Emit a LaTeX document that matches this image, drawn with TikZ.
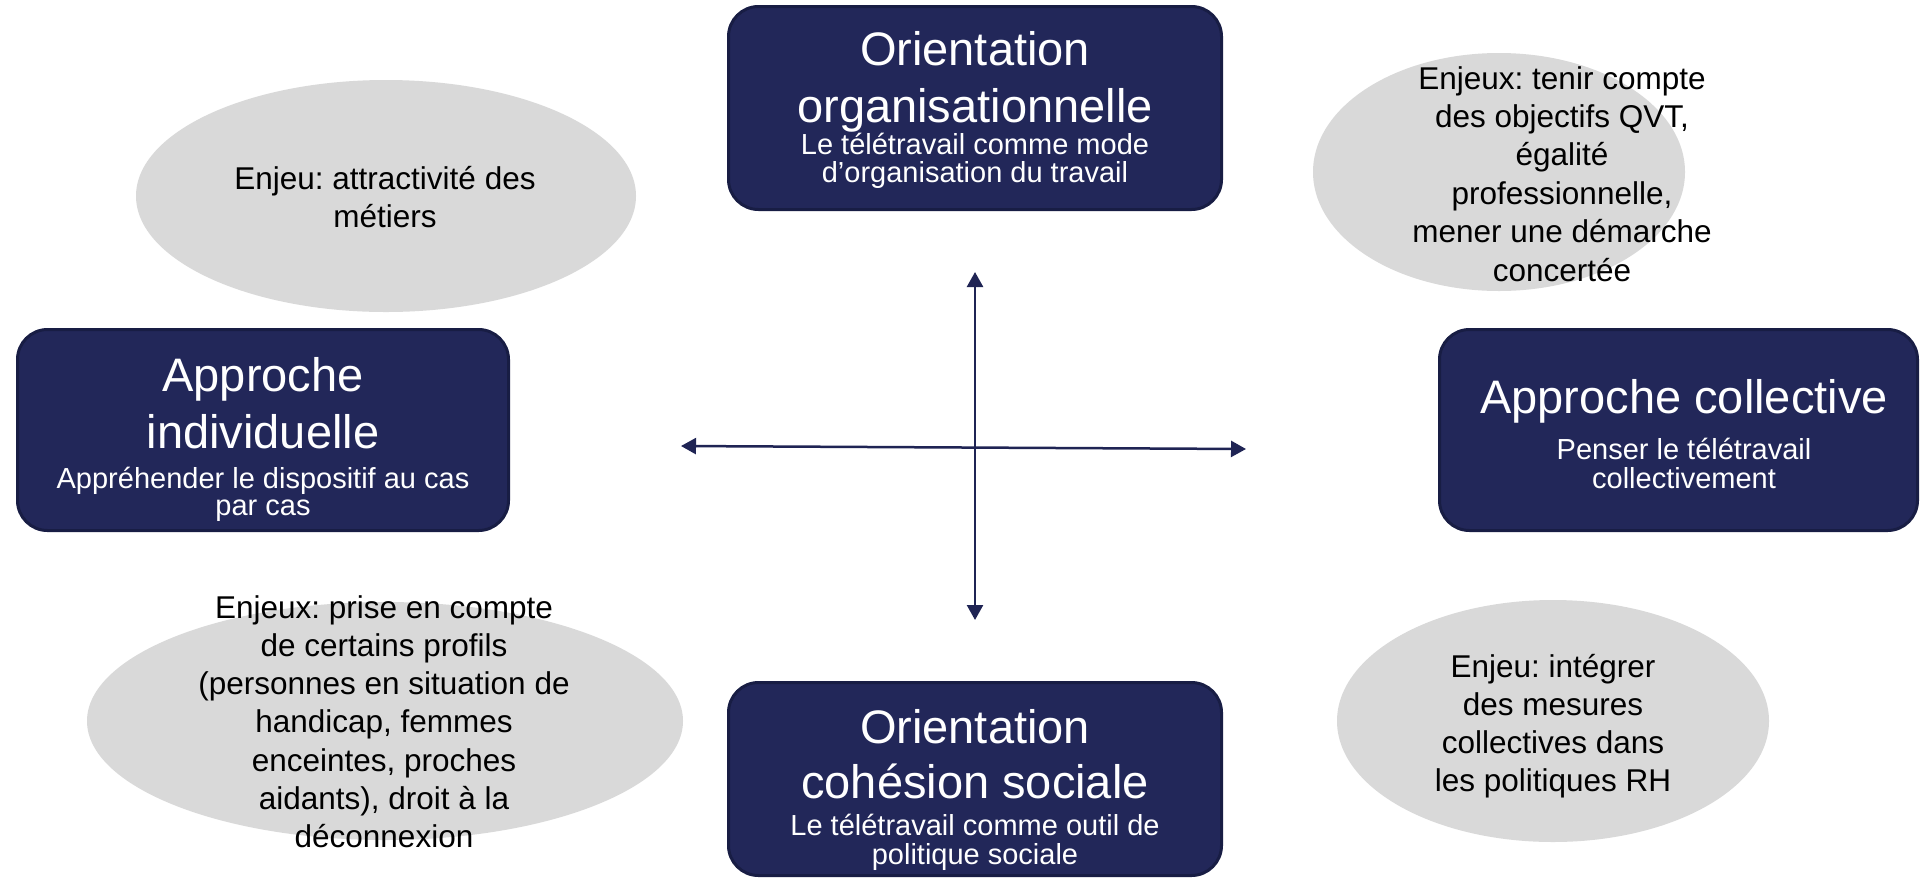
\documentclass[tikz,border=0pt]{standalone}
\usepackage{fontspec}
\setmainfont{Liberation Sans}
\usetikzlibrary{shapes.geometric,arrows.meta}
\definecolor{navy}{RGB}{34,39,89}
\definecolor{navyline}{RGB}{24,29,68}
\definecolor{arrowc}{RGB}{31,36,84}
\definecolor{ellgray}{RGB}{217,217,217}
\newcommand\ml[2]{\vtop{\frenchspacing\baselineskip=#1pt\lineskiplimit=-1000pt\relax\halign{\hfil##\hfil\cr#2\crcr}}}
\begin{document}
\frenchspacing
\begin{tikzpicture}[x=1pt,y=-1pt,
 dbox/.style={draw=navyline,fill=navy,line width=3pt,rounded corners=30pt,inner sep=0pt},
 ell/.style={ellipse,fill=ellgray,inner sep=0pt},
 ttl/.style={anchor=base,inner sep=0pt,text=white,font=\fontsize{47}{57}\selectfont},
 subtxt/.style={anchor=base,inner sep=0pt,text=white,font=\fontsize{29}{28}\selectfont},
 etxt/.style={anchor=base,inner sep=0pt,text=black,font=\fontsize{31.5}{38.4}\selectfont},
 axisarrow/.style={draw=arrowc,line width=2.5pt,{Triangle[length=15pt,width=16pt]}-{Triangle[length=15pt,width=16pt]}}]
\fill[white] (0,0) rectangle (1921,879);
\useasboundingbox (0,0) rectangle (1921,879);

% ellipses
\node[ell,minimum width=500pt,minimum height=232pt] (eTL) at (386,196) {};
\node[ell,minimum width=372pt,minimum height=238pt] (eTR) at (1499,172) {};
\node[ell,minimum width=596pt,minimum height=238pt] (eBL) at (385,721) {};
\node[ell,minimum width=432pt,minimum height=242pt] (eBR) at (1553,721) {};

\node[etxt] (tTL) at (385,189) {\ml{38.4}{Enjeu: attractivité des\cr métiers}};
\node[etxt] (tTR) at (1562,89) {\ml{38.4}{Enjeux: tenir compte\cr des objectifs QVT,\cr égalité\cr professionnelle,\cr mener une démarche\cr concertée}};
\node[etxt] (tBL) at (384,618) {\ml{38.3}{Enjeux: prise en compte\cr de certains profils\cr (personnes en situation de\cr handicap, femmes\cr enceintes, proches\cr aidants), droit à la\cr déconnexion}};
\node[etxt] (tBR) at (1553,677) {\ml{38.3}{Enjeu: intégrer\cr des mesures\cr collectives dans\cr les politiques RH}};

% boxes
\node[dbox,minimum width=493pt,minimum height=203pt] (org) at (975,108) {};
\node[dbox,minimum width=491pt,minimum height=201pt] (ind) at (263,430) {};
\node[dbox,minimum width=478pt,minimum height=201pt] (col) at (1678.5,430) {};
\node[dbox,minimum width=493pt,minimum height=193pt] (coh) at (975,779) {};

\node[ttl] (orgT) at (975,65) {\ml{57}{Orientation\cr organisationnelle}};
\node[subtxt] (orgS) at (975,154) {\ml{28}{Le télétravail comme mode\cr d’organisation du travail}};
\node[ttl] (indT) at (263,391) {\ml{57}{Approche\cr individuelle}};
\node[subtxt] (indS) at (263,488) {\ml{27}{Appréhender le dispositif au cas\cr par cas}};
\node[ttl] (colT) at (1684,413) {Approche collective};
\node[subtxt] (colS) at (1684,459) {\ml{29}{Penser le télétravail\cr collectivement}};
\node[ttl] (cohT) at (975,743) {\ml{55}{Orientation\cr cohésion sociale}};
\node[subtxt] (cohS) at (975,835) {\ml{29}{Le télétravail comme outil de\cr politique sociale}};

% axes
\coordinate (hL) at (681,446);
\coordinate (hR) at (1246,449);
\coordinate (vT) at (975,272);
\coordinate (vB) at (975,620);
\draw[axisarrow] (hL) -- (hR);
\draw[axisarrow] (vT) -- (vB);
\end{tikzpicture}
\end{document}
